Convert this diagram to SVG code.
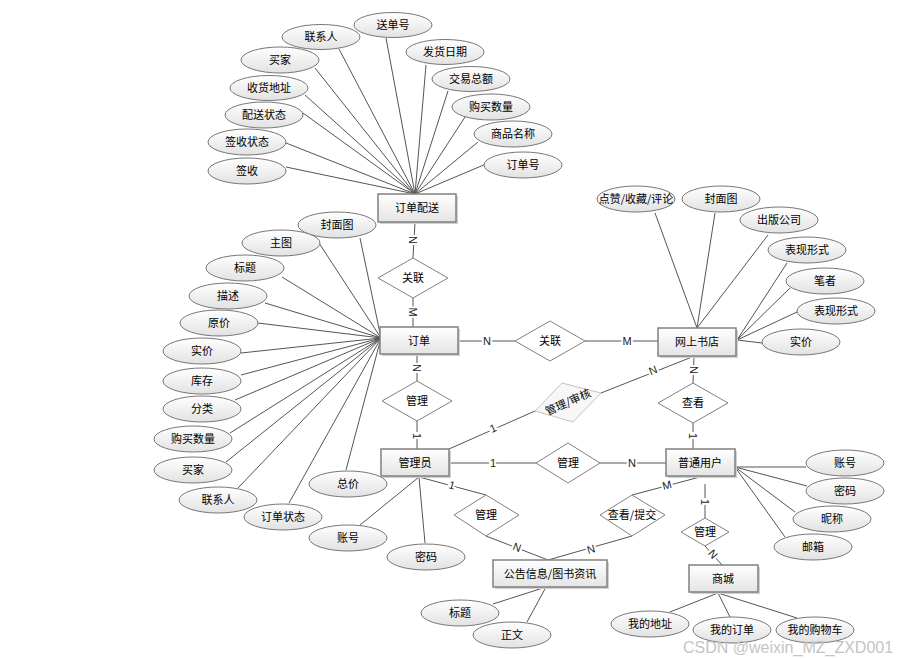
<svg xmlns="http://www.w3.org/2000/svg" width="904" height="658" viewBox="0 0 904 658">
<defs>
<linearGradient id="gE" x1="0" y1="0" x2="0" y2="1"><stop offset="0" stop-color="#ffffff"/><stop offset="1" stop-color="#e2e2e2"/></linearGradient>
<linearGradient id="gR" x1="0" y1="0" x2="0" y2="1"><stop offset="0" stop-color="#ffffff"/><stop offset="1" stop-color="#e4e4e4"/></linearGradient>
<style>
.ln{stroke:#555;stroke-width:1;fill:none}
.el{fill:url(#gE);stroke:#777;stroke-width:1}
.rc{fill:url(#gR);stroke:#808080;stroke-width:1.5}
.sh{fill:#d0d0d0}
.dm{fill:#fff;stroke:#808080;stroke-width:1}
.dm2{fill:#f7f7f7;stroke:#c4c4c4;stroke-width:1}
.t{font-family:"Noto Sans CJK SC","Liberation Sans",sans-serif;font-size:11px;fill:#000;text-anchor:middle}
.lb{font-family:"Liberation Sans",sans-serif;font-size:11px;fill:#222;text-anchor:middle;paint-order:stroke;stroke:#fff;stroke-width:4px}
.wm{font-family:"Liberation Sans",sans-serif;font-size:16px;fill:#c4c4c4}
</style>
</defs>
<rect width="904" height="658" fill="#fff"/>
<g id="connectors">
<path class="ln" d="M286,167L415,194M286,143L415,194M303,113L415,194M305,95L415,194M315,68L415,194M339,49L415,194M386,38L415,194M426,65L415,194M448,91L415,194M465,117L415,194M478,142L415,194M486,164L415,194"/>
<path class="ln" d="M360,238L381,338M319,243L381,338M282,277L381,338M265,303L381,338M258,323L381,338M241,353L381,338M241,375L381,338M235,400L381,338M230,433L381,338M226,462L381,338M238,488L381,338M289,503L381,338M346,470L381,338"/>
<path class="ln" d="M360,525L419,477M425,543L419,477"/>
<path class="ln" d="M655,213L697,328M715,213L697,328M768,235L697,328M787,263L737,340M790,288L737,340M797,312L737,340M762,343L737,340"/>
<path class="ln" d="M735,467L806,467M735,467L807,486M735,467L795,512M735,467L785,537"/>
<path class="ln" d="M670,612L718,593M730,617L718,593M797,618L718,593"/>
<path class="ln" d="M493,604L546,587M527,622L546,587"/>
<path class="ln" d="M415,222L413,258M413,298L413,327M417,354L417,381M417,421L417,449"/>
<path class="ln" d="M458,341L515,341M585,341L658,341"/>
<path class="ln" d="M449,449L535,411M601,393L692,357"/>
<path class="ln" d="M694,356L693,383M693,423L693,449"/>
<path class="ln" d="M449,463L536,463M600,463L666,463"/>
<path class="ln" d="M419,477L486,495M486,536L548,560M548,560L632,536M632,495L700,477"/>
<path class="ln" d="M705,484L705,518M705,546L722,565"/>
<text class="lb" transform="translate(413,240) rotate(90)" y="4">N</text>
<text class="lb" transform="translate(413,312) rotate(90)" y="4">M</text>
<text class="lb" transform="translate(417,368) rotate(90)" y="4">N</text>
<text class="lb" transform="translate(417,436) rotate(90)" y="4">1</text>
<text class="lb" x="487" y="345">N</text>
<text class="lb" x="627" y="345">M</text>
<text class="lb" transform="translate(493,428) rotate(-24)" y="4">1</text>
<text class="lb" transform="translate(653,370) rotate(-22)" y="4">N</text>
<text class="lb" transform="translate(694,370) rotate(90)" y="4">N</text>
<text class="lb" transform="translate(693,436) rotate(90)" y="4">1</text>
<text class="lb" x="493" y="467">1</text>
<text class="lb" x="632" y="467">N</text>
<text class="lb" transform="translate(452,485) rotate(15)" y="4">1</text>
<text class="lb" transform="translate(517,547) rotate(20)" y="4">N</text>
<text class="lb" transform="translate(591,549) rotate(-16)" y="4">N</text>
<text class="lb" transform="translate(667,485) rotate(-15)" y="4">M</text>
<text class="lb" transform="translate(705,502) rotate(90)" y="4">1</text>
<text class="lb" transform="translate(713,554) rotate(50)" y="4">N</text>
</g>
<g id="e-dingdanpeisong"><rect class="sh" x="380" y="196" width="78" height="28"/><rect class="rc" x="378" y="194" width="78" height="28"/><text class="t" x="417" y="212">订单配送</text></g>
<g id="e-dingdan"><rect class="sh" x="382" y="329" width="78" height="27"/><rect class="rc" x="380" y="327" width="78" height="27"/><text class="t" x="419" y="345">订单</text></g>
<g id="e-wangshangshudian"><rect class="sh" x="660" y="330" width="78" height="28"/><rect class="rc" x="658" y="328" width="78" height="28"/><text class="t" x="697" y="346">网上书店</text></g>
<g id="e-guanliyuan"><rect class="sh" x="383" y="451" width="68" height="27"/><rect class="rc" x="381" y="449" width="68" height="27"/><text class="t" x="415" y="467">管理员</text></g>
<g id="e-putongyonghu"><rect class="sh" x="668" y="451" width="69" height="27"/><rect class="rc" x="666" y="449" width="69" height="27"/><text class="t" x="700" y="467">普通用户</text></g>
<g id="e-gonggao"><rect class="sh" x="495" y="562" width="114" height="27"/><rect class="rc" x="493" y="560" width="114" height="27"/><text class="t" x="550" y="578">公告信息/图书资讯</text></g>
<g id="e-shangcheng"><rect class="sh" x="691" y="567" width="69" height="27"/><rect class="rc" x="689" y="565" width="69" height="27"/><text class="t" x="723" y="583">商城</text></g>
<g id="r-guanlian1"><polygon class="dm" points="413,258 448,278 413,298 378,278"/><text class="t" x="413" y="282">关联</text></g>
<g id="r-guanli1"><polygon class="dm" points="417,381 452,401 417,421 382,401"/><text class="t" x="417" y="405">管理</text></g>
<g id="r-guanlian2"><polygon class="dm" points="550,321 585,341 550,361 515,341"/><text class="t" x="550" y="345">关联</text></g>
<g id="r-guanlishenhe"><polygon class="dm2" points="562,383 601,393 573,422 535,411"/><text class="t" transform="translate(568,402) rotate(-24)" y="4">管理/审核</text></g>
<g id="r-chakan"><polygon class="dm" points="693,383 728,403 693,423 658,403"/><text class="t" x="693" y="407">查看</text></g>
<g id="r-guanli2"><polygon class="dm" points="568,443 600,463 568,483 536,463"/><text class="t" x="568" y="467">管理</text></g>
<g id="r-guanli3"><polygon class="dm" points="486,495 519,515 486,536 454,515"/><text class="t" x="486" y="519">管理</text></g>
<g id="r-chakantijiao"><polygon class="dm" points="632,495 665,515 632,536 600,515"/><text class="t" x="632" y="519">查看/提交</text></g>
<g id="r-guanli4"><polygon class="dm" points="705,518 729,532 705,546 681,532"/><text class="t" x="705" y="536">管理</text></g>
<g id="a-lianxiren1"><ellipse class="el" cx="321" cy="37" rx="39" ry="12.5"/><text class="t" x="321" y="41">联系人</text></g>
<g id="a-songdanhao"><ellipse class="el" cx="393" cy="25" rx="39" ry="12.5"/><text class="t" x="393" y="29">送单号</text></g>
<g id="a-maijia1"><ellipse class="el" cx="280" cy="60" rx="39" ry="13"/><text class="t" x="280" y="64">买家</text></g>
<g id="a-fahuoriqi"><ellipse class="el" cx="445" cy="52" rx="39" ry="12.5"/><text class="t" x="445" y="56">发货日期</text></g>
<g id="a-shouhuodizhi"><ellipse class="el" cx="269" cy="88" rx="39" ry="12.5"/><text class="t" x="269" y="92">收货地址</text></g>
<g id="a-jiaoyizonge"><ellipse class="el" cx="471" cy="79" rx="39" ry="12.5"/><text class="t" x="471" y="83">交易总额</text></g>
<g id="a-peisongzhuangtai"><ellipse class="el" cx="264" cy="115" rx="39" ry="13"/><text class="t" x="264" y="119">配送状态</text></g>
<g id="a-goumaishuliang1"><ellipse class="el" cx="491" cy="107" rx="39" ry="13"/><text class="t" x="491" y="111">购买数量</text></g>
<g id="a-qianshouzhuangtai"><ellipse class="el" cx="247" cy="142" rx="39" ry="13"/><text class="t" x="247" y="146">签收状态</text></g>
<g id="a-shangpinmingcheng"><ellipse class="el" cx="513" cy="134" rx="39" ry="13"/><text class="t" x="513" y="138">商品名称</text></g>
<g id="a-qianshou"><ellipse class="el" cx="247" cy="171" rx="39" ry="13"/><text class="t" x="247" y="175">签收</text></g>
<g id="a-dingdanhao"><ellipse class="el" cx="523" cy="165" rx="39" ry="13"/><text class="t" x="523" y="169">订单号</text></g>
<g id="a-fengmiantu1"><ellipse class="el" cx="337" cy="225" rx="39" ry="13"/><text class="t" x="337" y="229">封面图</text></g>
<g id="a-zhutu"><ellipse class="el" cx="281" cy="243" rx="39" ry="13"/><text class="t" x="281" y="247">主图</text></g>
<g id="a-biaoti1"><ellipse class="el" cx="245" cy="268" rx="39" ry="13"/><text class="t" x="245" y="272">标题</text></g>
<g id="a-miaoshu"><ellipse class="el" cx="228" cy="296" rx="39" ry="13"/><text class="t" x="228" y="300">描述</text></g>
<g id="a-yuanjia"><ellipse class="el" cx="219" cy="323" rx="39" ry="13"/><text class="t" x="219" y="327">原价</text></g>
<g id="a-shijia1"><ellipse class="el" cx="202" cy="351" rx="39" ry="13"/><text class="t" x="202" y="355">实价</text></g>
<g id="a-kucun"><ellipse class="el" cx="202" cy="381" rx="39" ry="13"/><text class="t" x="202" y="385">库存</text></g>
<g id="a-fenlei"><ellipse class="el" cx="202" cy="409" rx="39" ry="13"/><text class="t" x="202" y="413">分类</text></g>
<g id="a-goumaishuliang2"><ellipse class="el" cx="193" cy="439" rx="39" ry="13"/><text class="t" x="193" y="443">购买数量</text></g>
<g id="a-maijia2"><ellipse class="el" cx="193" cy="470" rx="39" ry="13"/><text class="t" x="193" y="474">买家</text></g>
<g id="a-lianxiren2"><ellipse class="el" cx="218" cy="500" rx="39" ry="13"/><text class="t" x="218" y="504">联系人</text></g>
<g id="a-dingdanzhuangtai"><ellipse class="el" cx="283" cy="517" rx="39" ry="13"/><text class="t" x="283" y="521">订单状态</text></g>
<g id="a-zongjia"><ellipse class="el" cx="348" cy="484" rx="39" ry="13"/><text class="t" x="348" y="488">总价</text></g>
<g id="a-zhanghao1"><ellipse class="el" cx="348" cy="538" rx="39" ry="13"/><text class="t" x="348" y="542">账号</text></g>
<g id="a-mima1"><ellipse class="el" cx="426" cy="557" rx="39" ry="13"/><text class="t" x="426" y="561">密码</text></g>
<g id="a-dianzan"><ellipse class="el" cx="636" cy="199" rx="39" ry="13"/><text class="t" x="636" y="203">点赞/收藏/评论</text></g>
<g id="a-fengmiantu2"><ellipse class="el" cx="721" cy="199" rx="39" ry="13"/><text class="t" x="721" y="203">封面图</text></g>
<g id="a-chubangongsi"><ellipse class="el" cx="779" cy="220" rx="39" ry="13"/><text class="t" x="779" y="224">出版公司</text></g>
<g id="a-biaoxianxingshi1"><ellipse class="el" cx="807" cy="250" rx="39" ry="13"/><text class="t" x="807" y="254">表现形式</text></g>
<g id="a-bizhe"><ellipse class="el" cx="825" cy="281" rx="39" ry="13"/><text class="t" x="825" y="285">笔者</text></g>
<g id="a-biaoxianxingshi2"><ellipse class="el" cx="836" cy="311" rx="39" ry="13"/><text class="t" x="836" y="315">表现形式</text></g>
<g id="a-shijia2"><ellipse class="el" cx="801" cy="342" rx="39" ry="13"/><text class="t" x="801" y="346">实价</text></g>
<g id="a-zhanghao2"><ellipse class="el" cx="845" cy="463" rx="39" ry="13"/><text class="t" x="845" y="467">账号</text></g>
<g id="a-mima2"><ellipse class="el" cx="845" cy="491" rx="39" ry="13"/><text class="t" x="845" y="495">密码</text></g>
<g id="a-nicheng"><ellipse class="el" cx="832" cy="519" rx="39" ry="13"/><text class="t" x="832" y="523">昵称</text></g>
<g id="a-youxiang"><ellipse class="el" cx="813" cy="547" rx="39" ry="13"/><text class="t" x="813" y="551">邮箱</text></g>
<g id="a-wodedizhi"><ellipse class="el" cx="650" cy="624" rx="39" ry="13"/><text class="t" x="650" y="628">我的地址</text></g>
<g id="a-wodedingdan"><ellipse class="el" cx="732" cy="630" rx="39" ry="13"/><text class="t" x="732" y="634">我的订单</text></g>
<g id="a-wodegouwuche"><ellipse class="el" cx="815" cy="630" rx="39" ry="13"/><text class="t" x="815" y="634">我的购物车</text></g>
<g id="a-biaoti2"><ellipse class="el" cx="460" cy="613" rx="39" ry="13"/><text class="t" x="460" y="617">标题</text></g>
<g id="a-zhengwen"><ellipse class="el" cx="512" cy="635" rx="39" ry="13"/><text class="t" x="512" y="639">正文</text></g>
<text class="wm" x="683" y="653">CSDN @weixin_MZ_ZXD001</text>
</svg>
